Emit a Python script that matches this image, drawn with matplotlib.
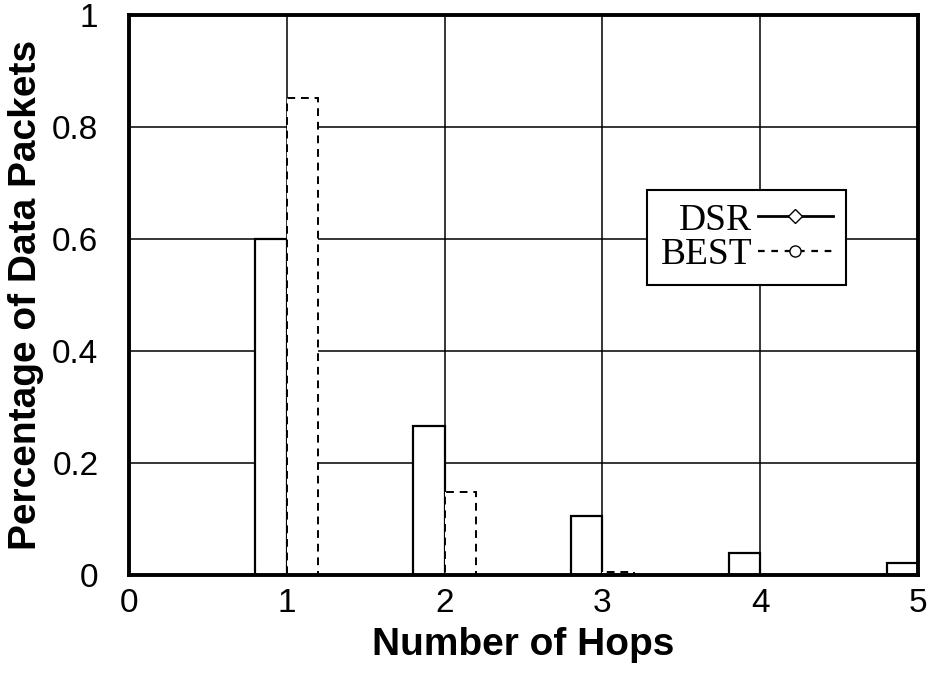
# ── Imports ───────────────────────────────────────────────────────────────────
import numpy as np
import matplotlib
matplotlib.use('Agg')
import matplotlib.pyplot as plt
from matplotlib.lines import Line2D

# ── Data ──────────────────────────────────────────────────────────────────────
hops      = [1, 2, 3, 4, 5]
dsr_vals  = [0.60, 0.266, 0.105, 0.039, 0.022]   # DSR, solid outline
best_vals = [0.852, 0.148, 0.005, 0.0, 0.0]      # BEST, dashed outline
x_ticks   = [0, 1, 2, 3, 4, 5]
y_ticks   = [0, 0.2, 0.4, 0.6, 0.8, 1]
y_labels  = ['0', '0.2', '0.4', '0.6', '0.8', '1']

BAR_W = 0.2

plt.rcParams['font.family'] = ['Liberation Sans', 'DejaVu Sans']

fig = plt.figure(figsize=(9.3, 6.79), dpi=100)
ax = fig.add_axes([0.1387, 0.153, 0.8485, 0.825])

# grid behind the bars
for xv in x_ticks[1:-1]:
    ax.axvline(xv, color='black', linewidth=1.1, zorder=1)
for yv in y_ticks[1:-1]:
    ax.axhline(yv, color='black', linewidth=1.1, zorder=1)

x = np.array(hops, dtype=float)
ax.bar(x - BAR_W, dsr_vals, width=BAR_W, align='edge', facecolor='white',
       edgecolor='black', linewidth=1.6, zorder=2)
ax.bar(x, best_vals, width=BAR_W, align='edge', facecolor='white',
       edgecolor='black', linewidth=1.4, linestyle=(0, (4, 3)), zorder=2)

ax.set_xlim(0, 5)
ax.set_ylim(0, 1)
ax.set_xticks(x_ticks)
ax.set_xticklabels([str(v) for v in x_ticks])
ax.set_yticks(y_ticks)
ax.set_yticklabels(y_labels)
ax.tick_params(length=0, labelsize=24)
ax.tick_params(axis='x', pad=9)
ax.tick_params(axis='y', pad=22)

for s in ax.spines.values():
    s.set_linewidth(2.8)
    s.set_zorder(5)

ax.set_xlabel('Number of Hops', fontsize=28, fontweight='bold', labelpad=6)
ax.set_ylabel('Percentage of Data Packets', fontsize=28, fontweight='bold',
              labelpad=6)

# ── Legend ───────────────────────────────────────────────────────────────────
handles = [
    Line2D([], [], color='black', linewidth=2.0, marker='D', markersize=7,
           markerfacecolor='white', markeredgecolor='black'),
    Line2D([], [], color='black', linewidth=1.6, linestyle=(0, (3, 3)),
           marker='o', markersize=8, markerfacecolor='white',
           markeredgecolor='black'),
]
leg = ax.legend(handles, ['DSR', 'BEST'], loc='upper left',
                bbox_to_anchor=(0.657, 0.6875), markerfirst=False,
                numpoints=1, handlelength=2.0, handletextpad=0.15,
                labelspacing=0.0, borderpad=0.35, borderaxespad=0,
                fancybox=False, framealpha=1, edgecolor='black',
                prop={'family': 'Liberation Serif', 'size': 27})
leg.get_frame().set_linewidth(1.5)
leg.set_zorder(6)

plt.savefig('out.png', dpi=100)
